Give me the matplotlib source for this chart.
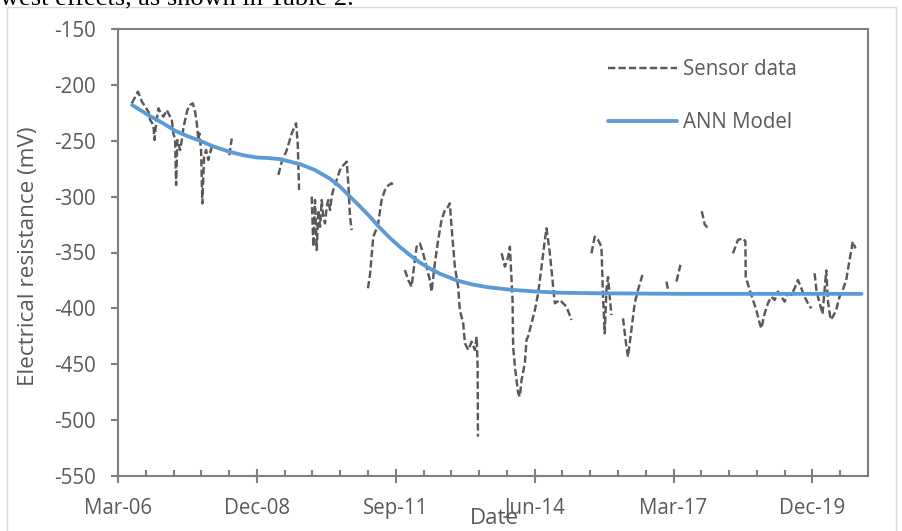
import numpy as np
import pandas as pd
import matplotlib
matplotlib.use('Agg')
import matplotlib.pyplot as plt
from matplotlib.patches import Rectangle

# sensor readings: decimal year, mV (nan = gap in record)
sensor_year = [2006.498, 2006.616, 2006.661, 2006.695, 2006.760, 2006.825, 2006.858, 2006.923,
               2006.943, 2006.976, 2007.022, 2007.055, 2007.120, 2007.187, 2007.219, 2007.286,
               2007.317, 2007.351, 2007.370, 2007.396, 2007.449, 2007.483, 2007.514, 2007.548,
               2007.593, 2007.646, 2007.699, 2007.745, 2007.778, 2007.810, 2007.829, 2007.863,
               2007.888, 2007.922, 2007.961, 2008.006, 2008.040, 2008.074, 2008.105,
               2008.25,
               2008.420, 2008.468,
               2008.90,
               2009.385, 2009.452, 2009.551, 2009.649, 2009.734, 2009.767, 2009.793,
               2009.90,
               2010.043, 2010.075, 2010.108, 2010.142, 2010.173, 2010.207, 2010.240, 2010.272,
               2010.305, 2010.339, 2010.370, 2010.404, 2010.437, 2010.469, 2010.536, 2010.601,
               2010.666, 2010.733, 2010.764, 2010.798, 2010.831,
               2010.95,
               2011.152, 2011.192, 2011.231, 2011.257, 2011.310, 2011.355, 2011.422, 2011.487,
               2011.552, 2011.619, 2011.650,
               2011.75,
               2011.881, 2011.946, 2012.013, 2012.045, 2012.112, 2012.176, 2012.241, 2012.308,
               2012.373, 2012.407, 2012.472, 2012.537, 2012.604, 2012.669, 2012.734, 2012.767,
               2012.801, 2012.866, 2012.931, 2012.964, 2013.029, 2013.063, 2013.128, 2013.195,
               2013.260, 2013.293, 2013.313, 2013.319,
               2013.55,
               2013.786, 2013.851, 2013.916, 2013.949, 2014.002, 2014.014, 2014.048, 2014.113,
               2014.146, 2014.180, 2014.245, 2014.278, 2014.310, 2014.377, 2014.408, 2014.442,
               2014.507, 2014.574, 2014.639, 2014.672, 2014.737, 2014.802, 2014.836, 2014.934,
               2015.066, 2015.165,
               2015.35,
               2015.558, 2015.623, 2015.689, 2015.755, 2015.787, 2015.820, 2015.854, 2015.885,
               2015.919, 2015.952,
               2016.05,
               2016.181, 2016.248, 2016.279, 2016.346, 2016.411, 2016.476, 2016.563,
               2016.80,
               2017.036, 2017.067,
               2017.15,
               2017.233, 2017.311,
               2017.50,
               2017.731, 2017.790, 2017.849,
               2018.10,
               2018.347, 2018.446, 2018.544, 2018.592, 2018.598, 2018.676, 2018.741, 2018.808,
               2018.873, 2018.907, 2018.972, 2019.037, 2019.104, 2019.169, 2019.234, 2019.301,
               2019.366, 2019.431, 2019.498, 2019.563, 2019.628, 2019.695, 2019.760, 2019.825,
               2019.892,
               2019.93,
               2019.957, 2019.996, 2020.055, 2020.114, 2020.187, 2020.218, 2020.272, 2020.317,
               2020.384, 2020.449, 2020.514, 2020.581, 2020.646, 2020.711, 2020.764]
sensor_mv = [-216.5, -206.1, -210.6, -215.0, -219.5, -224.0, -231.4, -235.9,
             -249.3, -234.4, -221.0, -224.0, -228.5, -222.5, -225.5, -231.4,
             -243.4, -249.3, -289.6, -249.3, -258.3, -249.3, -238.9, -231.4,
             -222.5, -218.0, -216.5, -224.0, -234.4, -249.3, -243.4, -258.3,
             -306.0, -264.3, -258.3, -267.2, -261.3, -255.3, -255.0,
             np.nan,
             -263.0, -248.0,
             np.nan,
             -280.6, -268.7, -258.3, -243.4, -234.4, -252.3, -294.0,
             np.nan,
             -300.0, -344.8, -303.0, -347.8, -312.0, -327.0, -303.0, -318.0,
             -324.0, -309.0, -303.0, -312.0, -300.0, -294.0, -285.0, -276.0,
             -272.0, -268.7, -288.0, -318.0, -330.0,
             np.nan,
             -382.0, -370.0, -350.0, -336.0, -330.0, -324.0, -303.0, -294.0,
             -290.0, -288.0, -290.0,
             np.nan,
             -365.7, -374.6, -380.6, -368.6, -344.8, -341.8, -350.7, -362.7,
             -374.6, -385.0, -359.7, -338.8, -321.0, -312.0, -309.0, -306.0,
             -327.0, -362.7, -380.6, -401.5, -413.4, -431.3, -437.2, -429.8,
             -437.2, -425.3, -452.2, -514.8,
             np.nan,
             -350.7, -362.7, -353.7, -344.8, -392.5, -434.3, -452.0, -476.0,
             -479.0, -464.0, -449.0, -428.0, -425.0, -413.0, -407.5, -401.5,
             -386.5, -362.7, -338.8, -328.4, -350.7, -380.6, -395.5, -392.5,
             -398.5, -410.4,
             np.nan,
             -350.7, -335.8, -338.8, -344.8, -390.0, -422.3, -383.0, -372.0,
             -390.0, -406.0,
             np.nan,
             -408.9, -434.3, -443.2, -419.4, -395.5, -383.6, -370.1,
             np.nan,
             -376.0, -383.6,
             np.nan,
             -376.0, -361.0,
             np.nan,
             -313.0, -325.0, -328.0,
             np.nan,
             -350.7, -338.8, -337.3, -340.0, -371.6, -383.6, -392.5, -401.5,
             -413.4, -417.9, -404.4, -395.5, -389.6, -392.5, -385.0, -389.6,
             -394.0, -386.5, -388.0, -382.0, -374.6, -382.0, -389.6, -395.5,
             -400.0,
             np.nan,
             -368.6, -385.0, -395.0, -405.0, -366.0, -392.5, -410.0, -407.5,
             -401.5, -389.6, -383.6, -374.6, -356.7, -340.3, -346.4]

# ANN model curve
ann_year = [2006.503, 2006.858, 2007.10, 2007.351, 2007.60, 2007.843, 2008.10, 2008.434,
            2008.70, 2008.966, 2009.20, 2009.419, 2009.60, 2009.813, 2010.10, 2010.404,
            2010.60, 2010.798, 2011.00, 2011.192, 2011.389, 2011.586, 2011.782, 2012.00,
            2012.176, 2012.40, 2012.570, 2012.905, 2013.20, 2013.50, 2014.008, 2014.50,
            2014.934, 2015.722, 2017.298, 2018.873, 2020.883]
ann_mv = [-218, -228, -234, -241, -246, -250, -255, -260,
          -263, -265, -265.5, -266.5, -268.5, -271, -276, -284,
          -291, -300, -309, -318, -328, -337, -345, -353,
          -359, -365, -369, -375, -378.5, -381, -383.5, -385,
          -386, -386.5, -387, -387, -387]

x_labels = ['Mar-06', 'Dec-08', 'Sep-11', 'Jun-14', 'Mar-17', 'Dec-19']
y_ticks = [-150, -200, -250, -300, -350, -400, -450, -500, -550]


def to_date(y):
    yr = int(y)
    return pd.Timestamp(yr, 1, 1) + pd.Timedelta(days=(y - yr) * 365.25)


sensor_t = [to_date(y) for y in sensor_year]
ann_t = [to_date(y) for y in ann_year]

txt = '#595959'
plt.rcParams['font.family'] = ['Open Sans', 'DejaVu Sans']
plt.rcParams['axes.unicode_minus'] = False

fig = plt.figure(figsize=(9.03, 5.31), dpi=100)
ax = fig.add_axes([118 / 903, 1 - 476 / 531, 750 / 903, 447 / 531])

ax.plot(sensor_t, sensor_mv, color='#595959', lw=1.75, linestyle=(0, (3, 1.3)), label='Sensor data')
ax.plot(ann_t, ann_mv, color='#5B9BD5', lw=2.75, solid_capstyle='round', label='ANN Model')

start = pd.Timestamp('2006-03-24')
ax.set_xlim(start, start + pd.Timedelta(days=5400))
ax.set_ylim(-550, -150)
ax.set_xticks(pd.date_range(start, periods=6, freq='1000D'))
ax.set_xticklabels(x_labels)
ax.set_xticks(pd.date_range(start, start + pd.Timedelta(days=5400), freq='200D'), minor=True)
ax.set_yticks(y_ticks)

for s in ax.spines.values():
    s.set_color('#7f7f7f')
    s.set_linewidth(1.5)
ax.tick_params(axis='x', which='major', direction='inout', length=10, width=1.5,
               color='#7f7f7f', labelsize=14.8, labelcolor=txt, pad=10.5)
ax.tick_params(axis='x', which='minor', direction='in', length=4.5, width=1.5, color='#7f7f7f')
ax.tick_params(axis='y', direction='out', length=5, width=1.5, color='#7f7f7f',
               labelsize=14.8, labelcolor=txt, pad=11)

fig.text(494 / 903, 1 - 519 / 531, 'Date', ha='center', va='center', fontsize=16, color=txt)
fig.text(29 / 903, 1 - 256 / 531, 'Electrical resistance (mV)', rotation=90,
         ha='center', va='center', fontsize=16.2, color=txt)

leg = ax.legend(loc='upper left', bbox_to_anchor=((608 - 118) / 750, (476 - 59) / 447),
                frameon=False, fontsize=14.8, handlelength=3.35, handletextpad=0.3,
                labelspacing=1.55, borderpad=0, borderaxespad=0)
for t in leg.get_texts():
    t.set_color(txt)

# chart area border and clipped document line above
fig.patches.append(Rectangle((7 / 903, -0.05), 889 / 903, 1 - 7 / 531 + 0.05,
                             transform=fig.transFigure, fill=False, ec='#d9d9d9', lw=1))
fig.text(0, 1 - 5 / 531, 'west effects, as shown in Table 2.', ha='left', va='baseline',
         fontsize=19, family='Liberation Serif', color='black')

fig.savefig('out.png', dpi=100)
